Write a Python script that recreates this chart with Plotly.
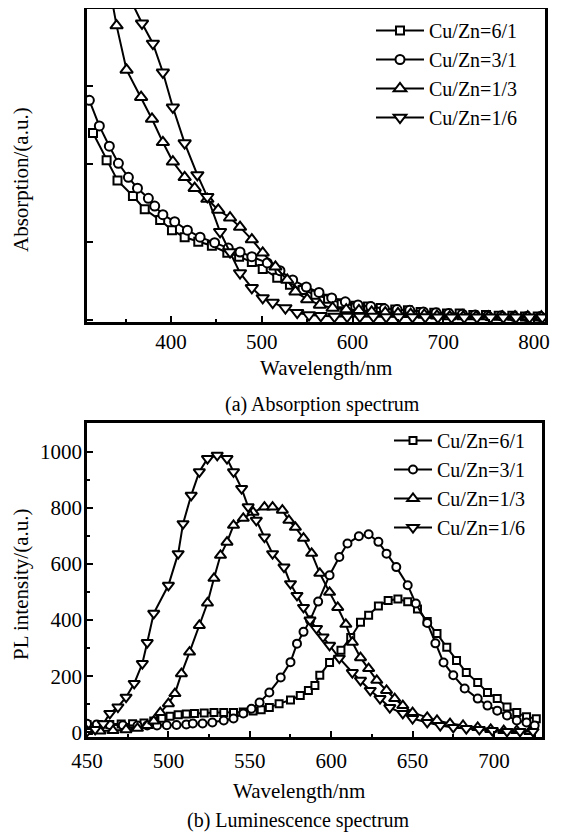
import plotly.graph_objects as go

# ---------------- (a) Absorption spectrum ----------------
abs_w_61 = [314, 329, 341, 358, 371, 388, 401, 415, 430, 445, 462, 475, 489, 501, 517, 531, 545, 559, 573, 588,
            603, 617, 631, 647, 661, 675, 690, 704, 718, 733, 747, 761, 776, 790, 804]
abs_61 = [2.40, 2.05, 1.79, 1.59, 1.42, 1.28, 1.15, 1.06, 1.00, 0.95, 0.86, 0.81, 0.74, 0.65, 0.54, 0.45, 0.38, 0.32,
          0.27, 0.21, 0.18, 0.17, 0.15, 0.13, 0.12, 0.10, 0.09, 0.08, 0.08, 0.06, 0.06, 0.05, 0.05, 0.04, 0.04]

abs_w_31 = [310, 321, 332, 342, 353, 363, 375, 382, 391, 404, 418, 432, 448, 463, 476, 489, 506, 520, 534, 549,
            563, 577, 592, 606, 620, 635, 649, 663, 678, 692, 706, 721, 735, 749, 764, 778, 792, 807]
abs_31 = [2.82, 2.49, 2.23, 2.01, 1.83, 1.69, 1.56, 1.46, 1.35, 1.26, 1.15, 1.06, 0.99, 0.92, 0.87, 0.81, 0.73, 0.63,
          0.51, 0.42, 0.35, 0.28, 0.23, 0.19, 0.17, 0.14, 0.13, 0.12, 0.10, 0.09, 0.08, 0.07, 0.06, 0.05, 0.05, 0.04,
          0.04, 0.04]

abs_w_13 = [330, 340, 351, 367, 379, 391, 402, 415, 426, 440, 452, 465, 476, 489, 501, 515, 528, 537, 550, 564,
            578, 593, 607, 621, 636, 650, 664, 679, 693, 707, 722, 736, 750, 765, 779, 793, 808]
abs_13 = [4.42, 3.78, 3.21, 2.86, 2.58, 2.28, 2.03, 1.83, 1.69, 1.55, 1.41, 1.31, 1.19, 1.03, 0.86, 0.68, 0.51, 0.36,
          0.26, 0.19, 0.15, 0.13, 0.12, 0.10, 0.09, 0.08, 0.07, 0.06, 0.05, 0.04, 0.04, 0.04, 0.04, 0.04, 0.04, 0.04,
          0.04]

abs_w_16 = [348, 368, 380, 391, 402, 415, 429, 440, 454, 465, 476, 489, 501, 512, 526, 539, 552, 565, 580, 594,
            608, 623, 637, 651, 666, 680, 694, 709, 723, 737, 752, 766, 780, 795, 809]
abs_16 = [4.29, 3.81, 3.55, 3.18, 2.73, 2.27, 1.86, 1.58, 1.13, 0.87, 0.60, 0.41, 0.28, 0.22, 0.15, 0.09, 0.06, 0.05,
          0.04, 0.04, 0.04, 0.04, 0.035, 0.035, 0.035, 0.035, 0.03, 0.03, 0.03, 0.03, 0.03, 0.03, 0.03, 0.03, 0.03]

# ---------------- (b) Luminescence spectrum ----------------
pl_w_61 = [450, 457, 464, 471, 478, 485, 491, 496, 501, 506, 511, 516, 522, 528, 534, 540, 546, 552, 557, 562,
           568, 575, 581, 586, 590, 593, 599, 606, 612, 618, 623, 629, 635, 641, 647, 653, 659, 665, 671, 677,
           683, 690, 696, 702, 708, 714, 720, 726]
pl_61 = [28, 28, 28, 29, 30, 33, 40, 50, 57, 62, 65, 67, 69, 70, 70, 70, 72, 76, 80, 88,
         102, 115, 131, 149, 167, 203, 249, 292, 338, 392, 417, 450, 470, 475, 465, 440, 395, 352, 303, 256,
         213, 177, 142, 120, 90, 70, 55, 48]

pl_w_31 = [450, 456, 464, 472, 481, 487, 493, 499, 505, 511, 515, 521, 527, 534, 540, 546, 551, 556, 562, 569,
           575, 579, 583, 587, 592, 599, 605, 610, 617, 623, 629, 634, 640, 647, 652, 659, 664, 669, 675, 682,
           690, 696, 702, 708, 714, 720, 725]
pl_31 = [30, 28, 26, 25, 24, 24, 24, 25, 26, 28, 31, 31, 35, 42, 49, 67, 84, 106, 142, 195,
         250, 316, 358, 399, 466, 560, 625, 673, 699, 706, 679, 637, 589, 524, 459, 390, 317, 249, 203, 156,
         120, 95, 77, 60, 42, 35, 24]

pl_w_13 = [450, 458, 466, 474, 481, 487, 491, 495, 500, 504, 508, 513, 519, 524, 528, 532, 536, 540, 546, 552,
           559, 564, 570, 574, 578, 583, 588, 593, 599, 604, 609, 613, 618, 623, 628, 634, 639, 644, 650, 659,
           665, 673, 681, 690, 698, 706, 714, 722]
pl_13 = [3, 4, 6, 9, 14, 24, 40, 70, 102, 138, 209, 286, 381, 461, 549, 631, 678, 738, 763, 785,
         803, 803, 792, 756, 731, 692, 638, 567, 499, 445, 385, 321, 266, 227, 185, 149, 120, 95, 70, 53,
         42, 31, 24, 17, 10, 6, 6, 3]

pl_w_16 = [450, 455, 460, 464, 469, 474, 479, 484, 487, 491, 500, 506, 509, 514, 519, 524, 530, 536, 540, 545,
           549, 554, 559, 564, 571, 575, 579, 583, 587, 591, 595, 599, 605, 613, 618, 624, 630, 636, 644, 650,
           659, 667, 675, 683, 691, 699, 708, 716, 724]
pl_16 = [3, 10, 30, 67, 90, 125, 174, 245, 320, 424, 524, 637, 744, 845, 929, 976, 988, 976, 929, 869,
         804, 756, 696, 637, 589, 530, 488, 445, 400, 370, 340, 310, 264, 213, 185, 149, 120, 88, 67, 49,
         35, 24, 17, 13, 10, 6, 3, 3, 3]

names = ["Cu/Zn=6/1", "Cu/Zn=3/1", "Cu/Zn=1/3", "Cu/Zn=1/6"]
symbols = ["square", "circle", "triangle-up", "triangle-down"]
sizes = [8, 9, 11, 11]

FONT = "Liberation Serif, Times New Roman, serif"

fig = go.Figure()

top_sets = [(abs_w_61, abs_61), (abs_w_31, abs_31), (abs_w_13, abs_13), (abs_w_16, abs_16)]
bot_sets = [(pl_w_61, pl_61), (pl_w_31, pl_31), (pl_w_13, pl_13), (pl_w_16, pl_16)]

for i, (xw, yv) in enumerate(top_sets):
    fig.add_trace(go.Scatter(
        x=xw, y=yv, name=names[i], mode="lines+markers",
        line=dict(color="black", width=2),
        marker=dict(symbol=symbols[i], size=sizes[i], color="white",
                    line=dict(color="black", width=2)),
        xaxis="x", yaxis="y", legend="legend"))

for i, (xw, yv) in enumerate(bot_sets):
    fig.add_trace(go.Scatter(
        x=xw, y=yv, name=names[i], mode="lines+markers",
        line=dict(color="black", width=2),
        marker=dict(symbol=symbols[i], size=sizes[i] - 1, color="white",
                    line=dict(color="black", width=2)),
        xaxis="x2", yaxis="y2", legend="legend2"))

# The page body adds an 8px offset; positions below are given in window pixels.
OFF = 8
W, H = 566 - OFF, 835 - OFF

def px_x(p):
    return (p - OFF) / W

def px_y(p):
    return 1 - (p - OFF) / H

axis_common = dict(showline=True, linecolor="black", linewidth=2.5, mirror=True, automargin=False,
                   showgrid=False, zeroline=False, ticks="inside", tickcolor="black",
                   tickwidth=2, ticklen=6,
                   tickfont=dict(family=FONT, size=21, color="black"))

fig.update_layout(
    width=W, height=H,
    margin=dict(l=0, r=0, t=0, b=0, autoexpand=False),
    paper_bgcolor="white", plot_bgcolor="white",
    font=dict(family=FONT, size=20, color="black"),
    xaxis=dict(domain=[px_x(87), px_x(545)], range=[307.4, 812], anchor="y",
               tickvals=[400, 500, 600, 700, 800],
               minor=dict(ticks="inside", dtick=50, tick0=0, ticklen=3, tickcolor="black", tickwidth=2),
               ticklabelstandoff=-1, **axis_common),
    yaxis=dict(domain=[px_y(322), px_y(8.5)], range=[-0.03, 4.0], anchor="x",
               tickvals=[0, 1, 2, 3], showticklabels=False, **axis_common),
    xaxis2=dict(domain=[px_x(87), px_x(542)], range=[450, 729.5], anchor="y2",
                tickvals=[450, 500, 550, 600, 650, 700],
                minor=dict(ticks="inside", dtick=25, tick0=0, ticklen=3, tickcolor="black", tickwidth=2),
                ticklabelstandoff=3, **axis_common),
    yaxis2=dict(domain=[px_y(737), px_y(423)], range=[-17, 1103], anchor="x2",
                tickvals=[0, 200, 400, 600, 800, 1000],
                minor=dict(ticks="inside", dtick=100, tick0=0, ticklen=3, tickcolor="black", tickwidth=2),
                ticklabelstandoff=-2, **axis_common),
    legend=dict(x=px_x(371), y=px_y(11), xanchor="left", yanchor="top",
                bgcolor="rgba(0,0,0,0)", borderwidth=0, itemwidth=48,
                font=dict(family=FONT, size=20, color="black"), tracegroupgap=0),
    legend2=dict(x=px_x(389), y=px_y(421), xanchor="left", yanchor="top",
                 bgcolor="rgba(0,0,0,0)", borderwidth=0, itemwidth=38,
                 font=dict(family=FONT, size=20, color="black"), tracegroupgap=0),
    showlegend=True,
)

ann_font = dict(family=FONT, size=20, color="black")
title_font = dict(family=FONT, size=21, color="black")
annotations = [
    dict(text="Absorption/(a.u.)", x=px_x(21), y=px_y(180), textangle=-90, font=title_font),
    dict(text="Wavelength/nm", x=px_x(326), y=px_y(368), font=title_font),
    dict(text="(a) Absorption spectrum", x=px_x(322), y=px_y(404), font=ann_font),
    dict(text="PL intensity/(a.u.)", x=px_x(21), y=px_y(585), textangle=-90, font=title_font),
    dict(text="Wavelength/nm", x=px_x(299), y=px_y(791), font=title_font),
    dict(text="(b) Luminescence spectrum", x=px_x(298), y=px_y(820), font=ann_font),
]
for a in annotations:
    fig.add_annotation(xref="paper", yref="paper", showarrow=False,
                       xanchor="center", yanchor="middle", **a)

fig.write_html("out.html")
